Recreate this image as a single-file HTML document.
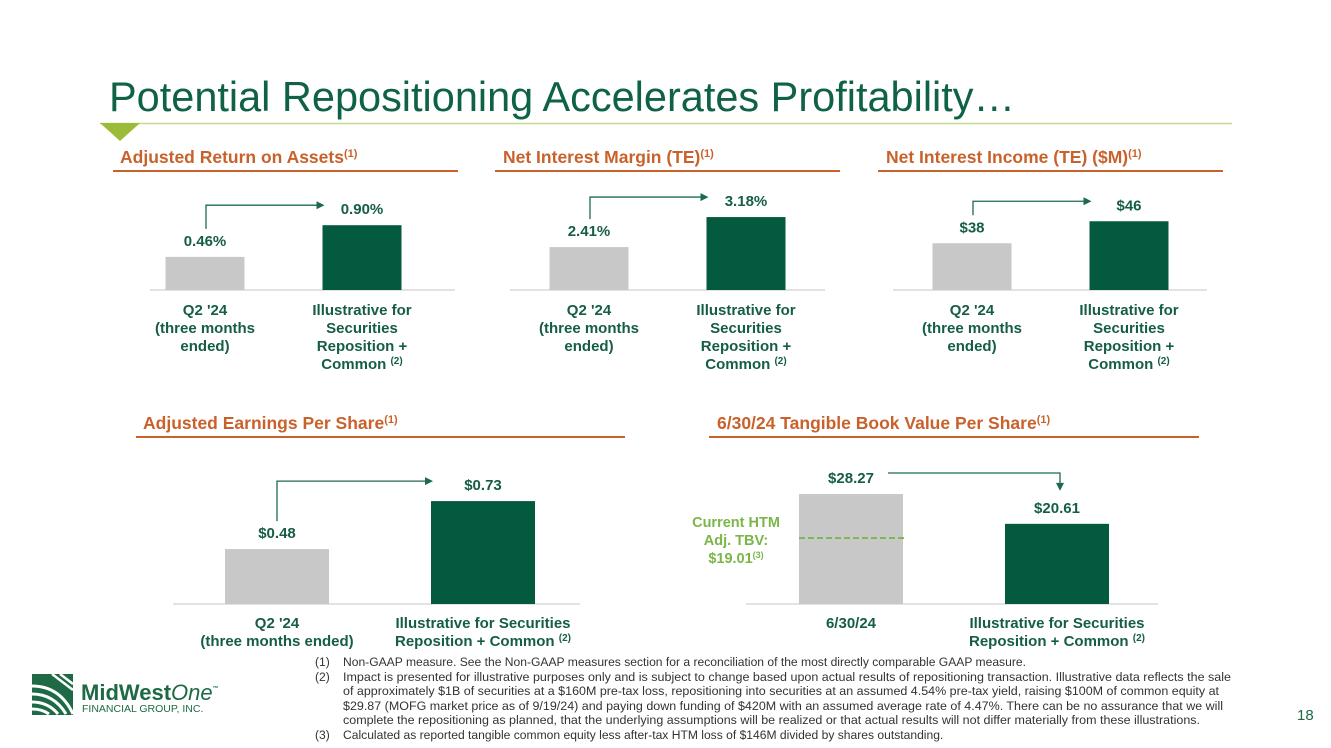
<!DOCTYPE html>
<html><head><meta charset="utf-8">
<style>
html,body{margin:0;padding:0;background:#fff;}
body{width:1331px;height:748px;overflow:hidden;position:relative;font-family:"Liberation Sans",Arial,sans-serif;}
svg{position:absolute;left:0;top:0;}
text{font-family:"Liberation Sans",Arial,sans-serif;}
.hdr{font-size:17.5px;font-weight:bold;fill:#c9612b;}
.val{font-size:15px;font-weight:bold;fill:#155e45;}
.cat{font-size:15px;font-weight:bold;fill:#155e45;}
.fn{font-size:12.1px;fill:#333;}
</style></head>
<body>
<svg id="s" width="1331" height="748" viewBox="0 0 1331 748">
  <text x="109" y="111" font-size="41.5" fill="#0f6148" textLength="906" lengthAdjust="spacingAndGlyphs">Potential Repositioning Accelerates Profitability…</text>
  <line x1="100" y1="123.5" x2="1232" y2="123.5" stroke="#c8da90" stroke-width="1.5"/>
  <polygon points="100,123 140,123 120,141" fill="#9dbb3a"/>

  <g>
    <text x="120" y="163" class="hdr">Adjusted Return on Assets<tspan font-size="11" dy="-6">(1)</tspan></text>
    <line x1="113" y1="171" x2="458" y2="171" stroke="#c9612b" stroke-width="2"/>
  </g>
  <g>
    <text x="503" y="163" class="hdr">Net Interest Margin (TE)<tspan font-size="11" dy="-6">(1)</tspan></text>
    <line x1="495" y1="171" x2="840" y2="171" stroke="#c9612b" stroke-width="2"/>
  </g>
  <g>
    <text x="886" y="163" class="hdr">Net Interest Income (TE) ($M)<tspan font-size="11" dy="-6">(1)</tspan></text>
    <line x1="878" y1="171" x2="1223" y2="171" stroke="#c9612b" stroke-width="2"/>
  </g>
  <g>
    <text x="143" y="429" class="hdr">Adjusted Earnings Per Share<tspan font-size="11" dy="-6">(1)</tspan></text>
    <line x1="136" y1="437" x2="625" y2="437" stroke="#c9612b" stroke-width="2"/>
  </g>
  <g>
    <text x="717" y="429" class="hdr">6/30/24 Tangible Book Value Per Share<tspan font-size="11" dy="-6">(1)</tspan></text>
    <line x1="709" y1="437" x2="1199" y2="437" stroke="#c9612b" stroke-width="2"/>
  </g>

  <g id="charts"></g>

  <g>
    <text x="736" y="527" text-anchor="middle" font-size="14.5" font-weight="bold" fill="#7ab648">Current HTM</text>
    <text x="736" y="545" text-anchor="middle" font-size="14.5" font-weight="bold" fill="#7ab648">Adj. TBV:</text>
    <text x="736" y="563" text-anchor="middle" font-size="14.5" font-weight="bold" fill="#7ab648">$19.01<tspan font-size="9" dy="-5">(3)</tspan></text>
  </g>

  <g>
    <text x="315" y="666" class="fn">(1)</text><text x="343" y="666" class="fn">Non-GAAP measure. See the Non-GAAP measures section for a reconciliation of the most directly comparable GAAP measure.</text>
    <text x="315" y="681" class="fn">(2)</text><text x="343" y="681" class="fn" textLength="888" lengthAdjust="spacingAndGlyphs">Impact is presented for illustrative purposes only and is subject to change based upon actual results of repositioning transaction. Illustrative data reflects the sale</text>
    <text x="343" y="695" class="fn" textLength="876" lengthAdjust="spacingAndGlyphs">of approximately $1B of securities at a $160M pre-tax loss, repositioning into securities at an assumed 4.54% pre-tax yield, raising $100M of common equity at</text>
    <text x="343" y="710" class="fn" textLength="880" lengthAdjust="spacingAndGlyphs">$29.87 (MOFG market price as of 9/19/24) and paying down funding of $420M with an assumed average rate of 4.47%. There can be no assurance that we will</text>
    <text x="343" y="724" class="fn" textLength="857" lengthAdjust="spacingAndGlyphs">complete the repositioning as planned, that the underlying assumptions will be realized or that actual results will not differ materially from these illustrations.</text>
    <text x="315" y="739" class="fn">(3)</text><text x="343" y="739" class="fn">Calculated as reported tangible common equity less after-tax HTM loss of $146M divided by shares outstanding.</text>
  </g>

  <g>
    <rect x="32" y="674" width="41" height="41" fill="#1d6a45"/>
    <path d="M32 686 Q60 686 73 714" stroke="#fff" stroke-width="3" fill="none"/>
    <path d="M32 694 Q54 694 66 714" stroke="#fff" stroke-width="3" fill="none"/>
    <path d="M32 702 Q48 702 58 714" stroke="#fff" stroke-width="3" fill="none"/>
    <path d="M32 709 Q42 709 49 714" stroke="#fff" stroke-width="3" fill="none"/>
    <path d="M52 674 L73 690" stroke="#fff" stroke-width="2.5"/>
    <path d="M60 674 L73 684" stroke="#fff" stroke-width="2.5"/>
    <text x="81" y="700" font-size="22" font-weight="bold" fill="#1d6a45">MidWest<tspan font-style="italic" font-weight="normal">One</tspan><tspan font-size="6" dy="-10">™</tspan></text>
    <text x="82" y="712" font-size="10.5" fill="#1d6a45">FINANCIAL GROUP, INC.</text>
  </g>

  <text x="1297" y="720" font-size="15" fill="#1d6a45">18</text>
</svg>
<script>
// Chart data
const roaCats = ["Q2 '24", "Illustrative"];
const roaValues = [0.46, 0.90];
const roaLabels = ["0.46%", "0.90%"];
const nimValues = [2.41, 3.18];
const nimLabels = ["2.41%", "3.18%"];
const niiValues = [38, 46];
const niiLabels = ["$38", "$46"];
const epsValues = [0.48, 0.73];
const epsLabels = ["$0.48", "$0.73"];
const tbvValues = [28.27, 20.61];
const tbvLabels = ["$28.27", "$20.61"];
const htmValue = [19.01];

const NS = "http://www.w3.org/2000/svg";
const root = document.getElementById('charts');
function mk(tag, attrs, parent) {
  const e = document.createElementNS(NS, tag);
  for (const k in attrs) e.setAttribute(k, attrs[k]);
  (parent || root).appendChild(e);
  return e;
}
function catText(g, cx, y0, lines) {
  lines.forEach((ln, i) => {
    const t = mk('text', {x: cx, y: y0 + i * 18, 'text-anchor': 'middle', class: 'cat'}, g);
    
    
    if (ln.endsWith('(2)')) {
      t.textContent = ln.slice(0, -3);
      const s = mk('tspan', {'font-size': '10', dy: '-5'}, t);
      s.textContent = '(2)';
    } else t.textContent = ln;
  });
}
function chart(name, cfg, values, labels, cats) {
  const g = mk('g', {});
  
  
  const y = v => cfg.base - (v - cfg.min) * cfg.k;
  const ax = mk('line', {x1: cfg.ax1, x2: cfg.ax2, y1: cfg.base, y2: cfg.base, stroke: '#d9d9d9', 'stroke-width': 1.5}, g);
  
  
  const tops = [];
  values.forEach((v, i) => {
    const cx = cfg.cx[i];
    const top = y(v);
    tops.push(top);
    const r = mk('rect', {x: cx - cfg.w / 2, y: top, width: cfg.w, height: cfg.base - top, fill: i === 0 ? '#c8c8c8' : '#045a3f'}, g);
    
    
    const t = mk('text', {x: cx, y: top - 11, 'text-anchor': 'middle', class: 'val'}, g);
    
    
    t.textContent = labels[i];
    catText(g, cx, cfg.catY, cats[i]);
  });
  let d, ah;
  if (values[1] >= values[0]) {
    const x0 = cfg.cx[0] + (cfg.arrowDx || 0), yTop = tops[1] - 20, x1 = cfg.cx[1] - cfg.w / 2 + 2;
    d = `M${x0} ${tops[0] - 28} L${x0} ${yTop} L${x1 - 7} ${yTop}`;
    ah = `${x1},${yTop} ${x1 - 8},${yTop - 4} ${x1 - 8},${yTop + 4}`;
  } else {
    const x0 = cfg.cx[0] + cfg.w / 2 - 15, yTop = tops[0] - 21, x1 = cfg.cx[1] + 3, yEnd = tops[1] - 33;
    d = `M${x0} ${yTop} L${x1} ${yTop} L${x1} ${yEnd - 7}`;
    ah = `${x1},${yEnd} ${x1 - 4},${yEnd - 8} ${x1 + 4},${yEnd - 8}`;
  }
  const p = mk('path', {d: d, stroke: '#1d6a50', 'stroke-width': 1.3, fill: 'none'}, g);
  
  
  const a = mk('polygon', {points: ah, fill: '#1d6a50'}, g);
  
  
  return y;
}
const smallCats = [["Q2 '24", "(three months", "ended)"], ["Illustrative for", "Securities", "Reposition +", "Common (2)"]];
const wideCats = [["Q2 '24", "(three months ended)"], ["Illustrative for Securities", "Reposition + Common (2)"]];
const tbvCats = [["6/30/24"], ["Illustrative for Securities", "Reposition + Common (2)"]];

chart('chart-adjusted-roa', {base: 290, ax1: 150, ax2: 455, cx: [205, 362], w: 79, k: 72, min: 0, catY: 315, arrowDx: 1}, roaValues, roaLabels, smallCats);
chart('chart-nim', {base: 290, ax1: 510, ax2: 825, cx: [589, 746], w: 79, k: 39, min: 1.31, catY: 315, arrowDx: 1}, nimValues, nimLabels, smallCats);
chart('chart-nii', {base: 290, ax1: 893, ax2: 1207, cx: [972, 1129], w: 79, k: 2.75, min: 21, catY: 315, arrowDx: 1}, niiValues, niiLabels, smallCats);
chart('chart-eps', {base: 604, ax1: 173, ax2: 580, cx: [277, 483], w: 104, k: 192, min: 0.194, catY: 628, arrowDx: 0}, epsValues, epsLabels, wideCats);
const tbvY = chart('chart-tbv', {base: 604, ax1: 746, ax2: 1158, cx: [851, 1057], w: 104, k: 3.89, min: 0, catY: 628}, tbvValues, tbvLabels, tbvCats);
const dl = mk('line', {x1: 799, x2: 906, y1: tbvY(htmValue[0]) + 8, y2: tbvY(htmValue[0]) + 8, stroke: '#7ab648', 'stroke-width': 1.8, 'stroke-dasharray': '6,3'});


</script>
</body></html>
